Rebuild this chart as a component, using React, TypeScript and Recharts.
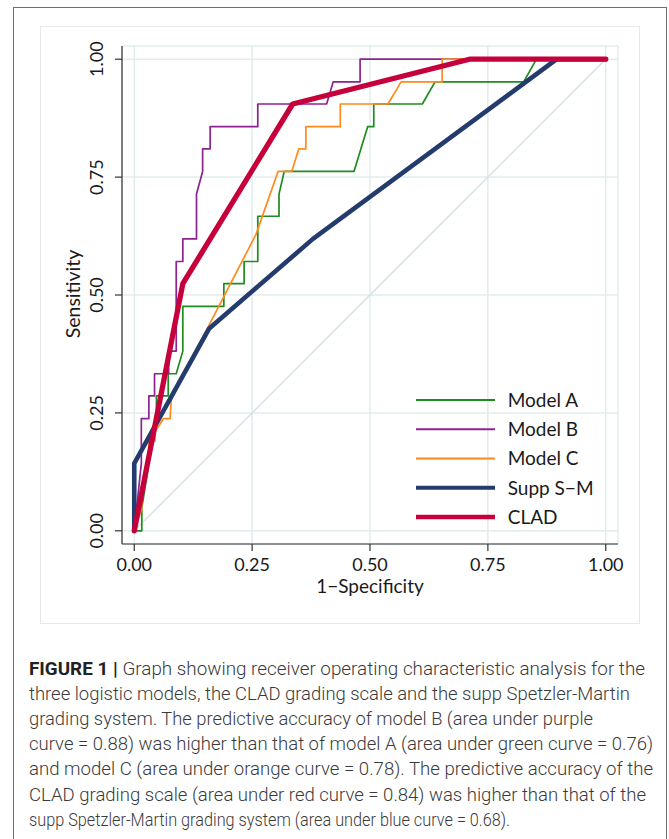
import React from 'react';
import { LineChart, Line, XAxis, YAxis, CartesianGrid, Legend } from 'recharts';

// ---------- data ----------
const axisTicks = [0, 0.25, 0.5, 0.75, 1];
const seriesNames = ['Model A', 'Model B', 'Model C', 'Supp S\u2212M', 'CLAD'];

const modelA: [number, number][] = [
  [0, 0], [0.016, 0], [0.016, 0.048], [0.031, 0.143], [0.047, 0.238], [0.047, 0.286],
  [0.072, 0.286], [0.072, 0.333], [0.089, 0.333], [0.103, 0.381], [0.103, 0.476],
  [0.19, 0.476], [0.19, 0.524], [0.233, 0.524], [0.233, 0.571], [0.262, 0.571],
  [0.262, 0.667], [0.307, 0.667], [0.307, 0.714], [0.318, 0.762], [0.466, 0.762],
  [0.495, 0.857], [0.508, 0.857], [0.508, 0.905], [0.611, 0.905], [0.638, 0.952],
  [0.826, 0.952], [0.853, 1], [1, 1],
];
const modelB: [number, number][] = [
  [0, 0], [0.015, 0.143], [0.015, 0.238], [0.031, 0.238], [0.031, 0.286], [0.043, 0.286],
  [0.043, 0.333], [0.073, 0.333], [0.073, 0.381], [0.089, 0.381], [0.089, 0.571],
  [0.103, 0.571], [0.103, 0.619], [0.132, 0.619], [0.132, 0.714], [0.145, 0.762],
  [0.145, 0.81], [0.161, 0.81], [0.161, 0.857], [0.262, 0.857], [0.262, 0.905],
  [0.408, 0.905], [0.422, 0.952], [0.479, 0.952], [0.479, 1], [1, 1],
];
const modelC: [number, number][] = [
  [0, 0], [0.016, 0.048], [0.016, 0.095], [0.031, 0.143], [0.031, 0.19], [0.044, 0.19],
  [0.044, 0.21], [0.062, 0.238], [0.076, 0.238], [0.079, 0.286], [0.157, 0.433],
  [0.258, 0.628], [0.305, 0.762], [0.334, 0.762], [0.349, 0.81], [0.364, 0.81],
  [0.364, 0.857], [0.437, 0.857], [0.437, 0.905], [0.538, 0.905], [0.566, 0.952],
  [0.653, 0.952], [0.653, 1], [1, 1],
];
const suppSM: [number, number][] = [
  [0, 0], [0, 0.143], [0.159, 0.429], [0.379, 0.619], [0.896, 1], [1, 1],
];
const clad: [number, number][] = [
  [0, 0], [0.103, 0.524], [0.336, 0.905], [0.711, 1], [1, 1],
];
const reference: [number, number][] = [[0, 0], [1, 1]];

const captionLines = [
  'Graph showing receiver operating characteristic analysis for the',
  'three logistic models, the CLAD grading scale and the supp Spetzler-Martin',
  'grading system. The predictive accuracy of model B (area under purple',
  'curve = 0.88) was higher than that of model A (area under green curve = 0.76)',
  'and model C (area under orange curve = 0.78). The predictive accuracy of the',
  'CLAD grading scale (area under red curve = 0.84) was higher than that of the',
  'supp Spetzler-Martin grading system (area under blue curve = 0.68).',
];
const captionLabel = 'FIGURE 1 |';

// ---------- styles ----------
const FONT = 'Lato, "Open Sans", sans-serif';
const CAP_FONT = 'Roboto, "Liberation Sans", sans-serif';
const toPts = (a: [number, number][]) => a.map(([x, y]) => ({ x, y }));

const series = [
  { name: seriesNames[0], data: toPts(modelA), color: '#1e8c1e', width: 1.7, lw: 2 },
  { name: seriesNames[1], data: toPts(modelB), color: '#8e2290', width: 1.7, lw: 2 },
  { name: seriesNames[2], data: toPts(modelC), color: '#ff8a1e', width: 1.7, lw: 2 },
  { name: seriesNames[3], data: toPts(suppSM), color: '#243b6e', width: 4.6, lw: 4.2 },
  { name: seriesNames[4], data: toPts(clad), color: '#c5003b', width: 5.3, lw: 4.6 },
];

const captionWidths = [616, 601, 564, 624, 624, 617, 481];

const YTick = (props: any) => {
  const { x, y, payload } = props;
  const bx = x - 10;
  return (
    <text x={bx} y={y} transform={`rotate(-90, ${bx}, ${y})`} textAnchor="middle"
      fill="#1a1a1a" fontSize={18} fontFamily={FONT}>
      {Number(payload.value).toFixed(2)}
    </text>
  );
};

const renderLegend = () => (
  <svg width={230} height={150} style={{ display: 'block' }}>
    {series.map((s, i) => {
      const cy = 15 + i * 29.25;
      return (
        <g key={s.name}>
          <line x1={6} x2={85} y1={cy} y2={cy} stroke={s.color} strokeWidth={s.lw} />
          <text x={97.7} y={cy + 6.8} fill="#1a1a1a" fontSize={19} fontFamily={FONT}>{s.name}</text>
        </g>
      );
    })}
  </svg>
);

export default function App() {
  return (
    <div style={{ position: 'absolute', left: 0, top: 0, width: 669, height: 839, overflow: 'hidden', background: '#fff' }}>
      <div style={{ position: 'absolute', left: 13, top: 7, width: 654, height: 900, boxSizing: 'border-box', border: '1.5px solid #6e6e6e' }} />
      <div style={{ position: 'absolute', left: 40, top: 26, width: 600, height: 598, boxSizing: 'border-box', border: '1px solid #e4e9e9' }} />
      <div style={{ position: 'absolute', left: 0, top: 0 }}>
        <LineChart width={669} height={640} margin={{ top: 46, right: 51, bottom: 36, left: 62 }}>
          <CartesianGrid stroke="#e2ecec" strokeWidth={1.5} />
          <XAxis type="number" dataKey="x" domain={[-0.026, 1.026]} ticks={axisTicks}
            tickFormatter={(v: number) => v.toFixed(2)} height={60} tickSize={7} tickMargin={7}
            axisLine={{ stroke: '#333', strokeWidth: 1.2 }} tickLine={{ stroke: '#333', strokeWidth: 1.2 }}
            tick={{ fill: '#1a1a1a', fontSize: 18, fontFamily: FONT }}
            label={{ value: '1\u2212Specificity', position: 'insideBottom', offset: 11, fill: '#1a1a1a', fontSize: 19, fontFamily: FONT }}
            allowDuplicatedCategory={false} />
          <YAxis type="number" dataKey="y" domain={[-0.028, 1.028]} ticks={axisTicks} width={60}
            tickSize={7} tickMargin={2} tick={<YTick />}
            axisLine={{ stroke: '#333', strokeWidth: 1.2 }} tickLine={{ stroke: '#333', strokeWidth: 1.2 }}
            label={(p: any) => (
              <text x={79.5} y={294} transform="rotate(-90, 79.5, 294)" textAnchor="middle"
                fill="#1a1a1a" fontSize={19.5} fontFamily={FONT}>Sensitivity</text>
            )} />
          <Line data={toPts(reference)} dataKey="y" stroke="#d3e1e5" strokeWidth={1.5} dot={false}
            isAnimationActive={false} legendType="none" name="ref" />
          {series.map((s) => (
            <Line key={s.name} data={s.data} dataKey="y" name={s.name} stroke={s.color}
              strokeWidth={s.width} dot={false} isAnimationActive={false}
              strokeLinejoin="round" strokeLinecap="round" type="linear" />
          ))}
          <Legend layout="vertical" align="center" verticalAlign="middle" content={renderLegend}
            wrapperStyle={{ left: 410, top: 385.3, width: 230, height: 150 }} />
        </LineChart>
      </div>
      <svg style={{ position: 'absolute', left: 0, top: 640 }} width={669} height={199}>
        {captionLines.map((t, i) => (
          <text key={i} x={29} y={35 + i * 25.1} fill="#3a3a3a" fontSize={18.5} fontFamily={CAP_FONT}
            fontWeight={300} textLength={captionWidths[i]} lengthAdjust="spacingAndGlyphs">
            {i === 0 ? <tspan fontWeight={700} fill="#222">{captionLabel} </tspan> : null}
            {t}
          </text>
        ))}
      </svg>
    </div>
  );
}
